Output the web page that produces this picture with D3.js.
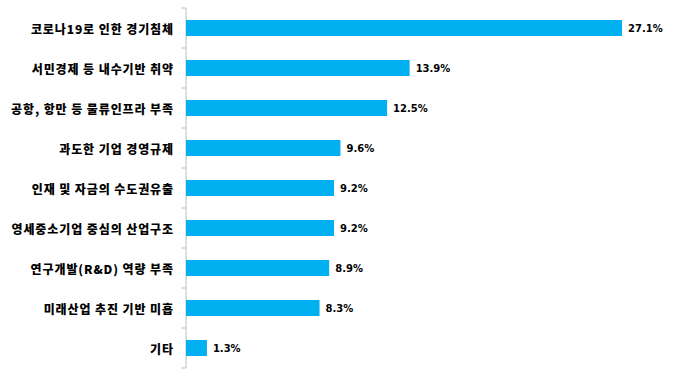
<!DOCTYPE html>
<html><head><meta charset="utf-8">
<script src="https://cdn.jsdelivr.net/npm/d3@7"></script>
<style>body{margin:0;background:#fff;}</style>
</head><body>
<svg id="c" width="680" height="381"></svg>
<script>
const categories = ["코로나19로 인한 경기침체","서민경제 등 내수기반 취약","공항, 항만 등 물류인프라 부족","과도한 기업 경영규제","인재 및 자금의 수도권유출","영세중소기업 중심의 산업구조","연구개발(R&D) 역량 부족","미래산업 추진 기반 미흡","기타"];
const values = [27.1,13.9,12.5,9.6,9.2,9.2,8.9,8.3,1.3];
const valueLabels = ["27.1%","13.9%","12.5%","9.6%","9.2%","9.2%","8.9%","8.3%","1.3%"];

const svg = d3.select("#c");
const axLeft = 186, axTop = 8, axBottom = 368;
const x = d3.scaleLinear().domain([0, 27.1]).range([axLeft, 622]);
const y = d3.scaleBand().domain(categories).range([axTop, axBottom]).paddingInner(0.6).paddingOuter(0.3);

const bandStep = (axBottom - axTop) / categories.length;
svg.append("line").attr("x1", axLeft).attr("x2", axLeft).attr("y1", axTop).attr("y2", axBottom)
  .attr("stroke", "#bfbfbf").attr("stroke-width", 1);
d3.range(categories.length + 1).forEach(i => {
  svg.append("line").attr("x1", axLeft - 5).attr("x2", axLeft).attr("y1", axTop + i * bandStep).attr("y2", axTop + i * bandStep)
    .attr("stroke", "#bfbfbf").attr("stroke-width", 1);
});

svg.selectAll("rect.bar").data(values).join("rect").attr("class","bar")
  .attr("x", axLeft).attr("y", (d,i) => y(categories[i]))
  .attr("width", d => x(d) - axLeft).attr("height", y.bandwidth())
  .attr("fill", "#00B0F0");

svg.selectAll("text.cat").data(categories).join("text").attr("class","cat")
  .attr("x", 174).attr("y", d => y(d) + y.bandwidth()/2)
  .attr("text-anchor","end").attr("dominant-baseline","central")
  .attr("font-family","'Noto Sans CJK KR', sans-serif").attr("font-weight","900").attr("font-size","12px")
  .attr("letter-spacing","0.9px")
  .attr("fill","#000").text(d => d);

svg.selectAll("text.val").data(values).join("text").attr("class","val")
  .attr("x", d => x(d) + 6).attr("y", (d,i) => y(categories[i]) + y.bandwidth()/2)
  .attr("dominant-baseline","central")
  .attr("font-family","'DejaVu Sans', sans-serif").attr("font-weight","bold").attr("font-size","10px")
  .attr("fill","#000").text((d,i) => valueLabels[i]);
</script>
</body></html>
